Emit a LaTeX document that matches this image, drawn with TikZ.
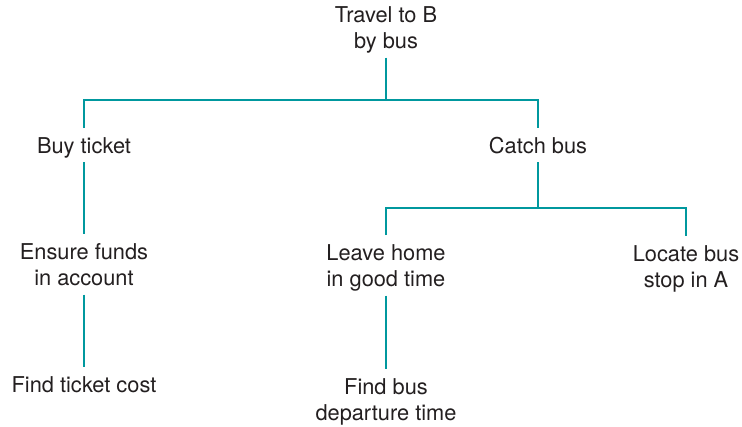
\documentclass[tikz,border=0pt]{standalone}
\usepackage{fontspec}
\setmainfont{TeX Gyre Heros}
\definecolor{linkteal}{RGB}{0,152,158}
\definecolor{txtgray}{RGB}{35,31,32}
\newcommand\myTopStrut{\rule{0pt}{25pt}}
\newcommand\myBotStrut{\rule[-9pt]{0pt}{9pt}}
\begin{document}
\begin{tikzpicture}[x=1pt,y=-1pt,
  lbl/.style={anchor=north,inner sep=0pt,outer sep=0pt,align=center,
    text=txtgray,font=\fontsize{21.8}{26.5}\selectfont},
  link/.style={draw=linkteal,line width=2.3pt}]
\useasboundingbox (0,0) rectangle (742,426);
\node[lbl] (root) at (386,-3) {\myTopStrut Travel to B\\by bus\myBotStrut};
\node[lbl] (buy) at (84,128) {\myTopStrut Buy ticket\myBotStrut};
\node[lbl] (catch) at (538,128) {\myTopStrut Catch bus\myBotStrut};
\node[lbl] (ensure) at (84,234) {\myTopStrut Ensure funds\\in account\myBotStrut};
\node[lbl] (leave) at (386,235) {\myTopStrut Leave home\\in good time\myBotStrut};
\node[lbl] (locate) at (686,236) {\myTopStrut Locate bus\\stop in A\myBotStrut};
\node[lbl] (findticket) at (84,367) {\myTopStrut Find ticket cost\myBotStrut};
\node[lbl] (findbus) at (386,369) {\myTopStrut Find bus\\departure time\myBotStrut};
\coordinate (j1) at (386,100);
\coordinate (j2) at (538,208);
\draw[link] (root.south) -- (j1);
\draw[link] (buy.north) |- (j1) -| (catch.north);
\draw[link] (catch.south) -- (j2);
\draw[link] (leave.north) |- (j2) -| (locate.north);
\draw[link] (buy.south) -- (ensure.north);
\draw[link] (ensure.south) -- (findticket.north);
\draw[link] (leave.south) -- (findbus.north);
\end{tikzpicture}
\end{document}
